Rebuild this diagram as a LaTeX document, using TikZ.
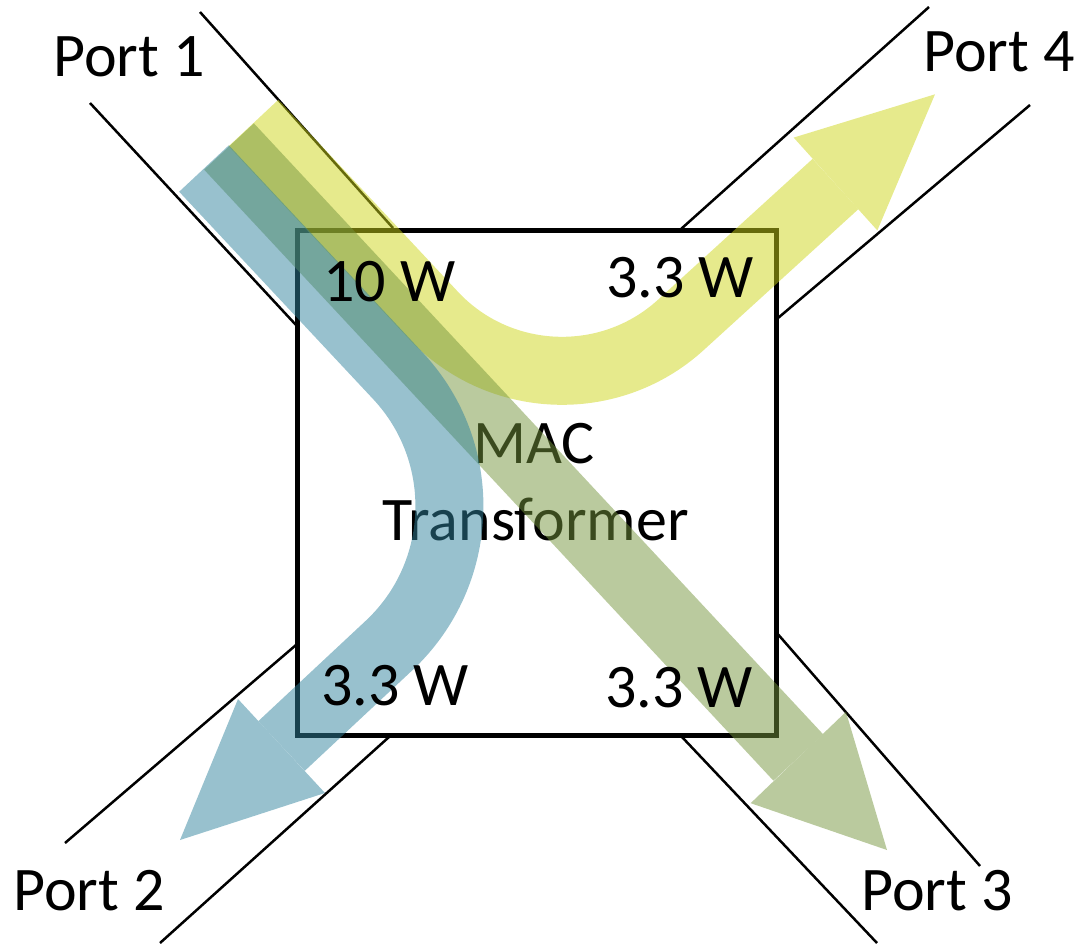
\documentclass[tikz,border=0pt]{standalone}
\usepackage{fontspec}
\setmainfont{Carlito}
\usetikzlibrary{calc}
\definecolor{ylw}{RGB}{205,213,25}
\definecolor{grn}{RGB}{117,149,61}
\definecolor{blu}{RGB}{49,131,157}
\begin{document}
\begin{tikzpicture}[x=1pt,y=-1pt,
  lbl/.style={inner sep=0pt, anchor=base west, font=\fontsize{62}{74}\selectfont},
  portline/.style={line width=2.5pt},
  flow/.style={line width=68pt},
  flowgroup/.style={transparency group, opacity=0.5}
]
\useasboundingbox (0,0) rectangle (1081,946);
% transformer box
\node[draw, line width=5pt, minimum width=479pt, minimum height=505pt, inner sep=0pt] (box) at (536.5,483) {};
% port channels
\coordinate (a1) at (200,12);   \coordinate (a2) at (393,228);
\coordinate (b1) at (90,103);   \coordinate (b2) at (296,325);
\coordinate (c1) at (929,7);    \coordinate (c2) at (681,229);
\coordinate (d1) at (1030,105); \coordinate (d2) at (778,318);
\coordinate (e1) at (65,843);   \coordinate (e2) at (296,645);
\coordinate (f1) at (160,943);  \coordinate (f2) at (389,737);
\coordinate (g1) at (980,866);  \coordinate (g2) at (776,632);
\coordinate (h1) at (877,943);  \coordinate (h2) at (682,737);
\draw[portline] (a1) -- (a2);
\draw[portline] (b1) -- (b2);
\draw[portline] (c1) -- (c2);
\draw[portline] (d1) -- (d2);
\draw[portline] (e1) -- (e2);
\draw[portline] (f1) -- (f2);
\draw[portline] (g1) -- (g2);
\draw[portline] (h1) -- (h2);
% labels
\node[lbl] (p1) at (53,76) {Port 1};
\node[lbl] (p4) at (923,71) {Port 4};
\node[lbl] (p2) at (13,910) {Port 2};
\node[lbl] (p3) at (861,910) {Port 3};
\node[lbl] (mac) at (473,463) {MAC};
\node[lbl] (trf) at (382,540) {Transformer};
% flows
\coordinate (yS) at (253.5,123);
\coordinate (yI) at (552.1,442.2);
\coordinate (yB) at (835.5,184);
\coordinate (yT) at (935,94.3);
\coordinate (gS) at (229,146.5);
\coordinate (gB) at (798.3,757.5);
\coordinate (gT) at (887,850);
\coordinate (bS) at (204,168.5);
\coordinate (bI) at (528.4,515.3);
\coordinate (bB) at (281.5,746);
\coordinate (bT) at (180,840);
\begin{scope}[flowgroup]
  \draw[flow, ylw, rounded corners=174pt] (yS) -- (yI) -- (yB);
  \fill[ylw] ($(yB)!62.5pt!90:(yT)$) -- (yT) -- ($(yB)!62.5pt!-90:(yT)$) -- cycle;
\end{scope}
\begin{scope}[flowgroup]
  \draw[flow, grn] (gS) -- (gB);
  \fill[grn] ($(gB)!66pt!90:(gT)$) -- (gT) -- ($(gB)!66pt!-90:(gT)$) -- cycle;
\end{scope}
\begin{scope}[flowgroup]
  \draw[flow, blu, rounded corners=191pt] (bS) -- (bI) -- (bB);
  \fill[blu] ($(bB)!64pt!90:(bT)$) -- (bT) -- ($(bB)!64pt!-90:(bT)$) -- cycle;
\end{scope}
% power labels on top
\node[lbl] (w10) at (323,301) {10 W};
\node[lbl] (w4) at (606,297) {3.3 W};
\node[lbl] (w2) at (321,705) {3.3 W};
\node[lbl] (w3) at (605,707) {3.3 W};
\end{tikzpicture}
\end{document}
